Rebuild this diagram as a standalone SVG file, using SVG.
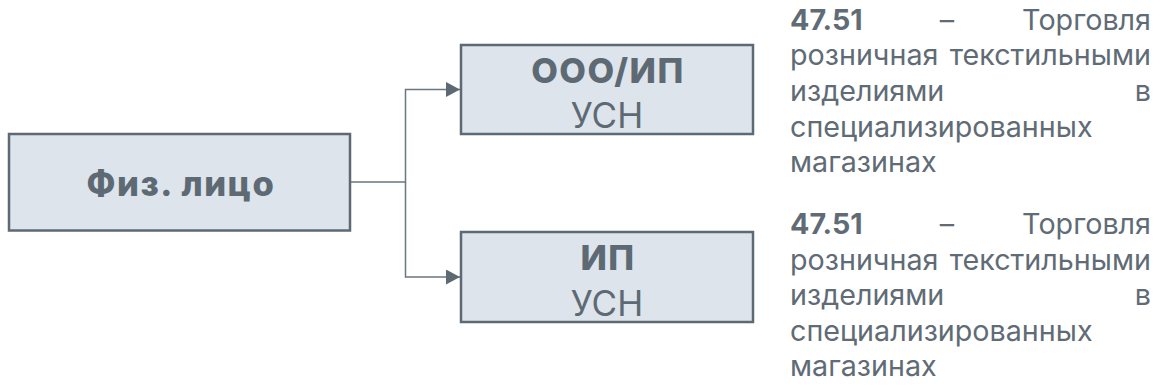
<svg xmlns="http://www.w3.org/2000/svg" width="1168" height="390" viewBox="0 0 1168 390">
<style>
.box{fill:#dde4ec;stroke:#5d6a74;stroke-width:2.5}
.t{font-family:Inter,"Liberation Sans",Arial,sans-serif;fill:#5d6a74}
.b{font-weight:800;letter-spacing:1.5px}
.pb{font-weight:bold}
.p{font-family:Inter,"Liberation Sans",Arial,sans-serif;fill:#5f6b75;font-size:28.7px}
.conn{fill:none;stroke:#6b7780;stroke-width:1.5}
</style>
<defs>
<marker id="ah" markerWidth="14" markerHeight="15" refX="14" refY="7.5" orient="auto" markerUnits="userSpaceOnUse">
<path d="M0,0 L14,7.5 L0,15 Z" fill="#5d6a74"/>
</marker>
</defs>
<rect width="1168" height="390" fill="#ffffff"/>
<g id="connectors">
<path class="conn" d="M350,182 H405.5 V89.5 H460" marker-end="url(#ah)"/>
<path class="conn" d="M405.5,182 V277 H460" marker-end="url(#ah)"/>
</g>
<g id="n-fiz">
<rect class="box" x="9" y="134" width="341" height="96.5"/>
<text class="t b" x="181" y="195.5" font-size="34.5" text-anchor="middle">Физ. лицо</text>
</g>
<g id="n-ooo">
<rect class="box" x="461" y="45" width="292" height="89"/>
<text class="t b" x="608" y="83" font-size="34.5" text-anchor="middle">ООО/ИП</text>
<text class="t" x="607" y="128" font-size="35" text-anchor="middle">УСН</text>
</g>
<g id="n-ip">
<rect class="box" x="461" y="232" width="292" height="90"/>
<text class="t b" x="608" y="270" font-size="34.5" text-anchor="middle">ИП</text>
<text class="t" x="607" y="316" font-size="35" text-anchor="middle">УСН</text>
</g>
<g id="desc1">
<text class="p pb" x="790" y="30" fill="#56626c">47.51</text>
<text class="p" x="947" y="30" text-anchor="middle">–</text>
<text class="p" x="1151" y="30" text-anchor="end">Торговля</text>
<text class="p" x="790" y="65">розничная</text>
<text class="p" x="1151" y="65" text-anchor="end">текстильными</text>
<text class="p" x="790" y="101">изделиями</text>
<text class="p" x="1151" y="101" text-anchor="end">в</text>
<text class="p" x="790" y="137">специализированных</text>
<text class="p" x="790" y="172">магазинах</text>
</g>
<g id="desc2">
<text class="p pb" x="790" y="234" fill="#56626c">47.51</text>
<text class="p" x="947" y="234" text-anchor="middle">–</text>
<text class="p" x="1151" y="234" text-anchor="end">Торговля</text>
<text class="p" x="790" y="270">розничная</text>
<text class="p" x="1151" y="270" text-anchor="end">текстильными</text>
<text class="p" x="790" y="305">изделиями</text>
<text class="p" x="1151" y="305" text-anchor="end">в</text>
<text class="p" x="790" y="341">специализированных</text>
<text class="p" x="790" y="376">магазинах</text>
</g>
</svg>
